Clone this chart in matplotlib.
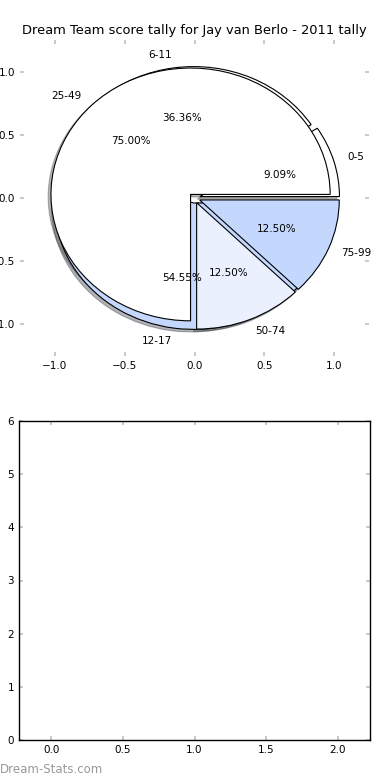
import matplotlib
matplotlib.use("Agg")
import matplotlib.pyplot as plt
import matplotlib.patches as mpatches

title = "Dream Team score tally for Jay van Berlo - 2011 tally"

pie1_labels = ['0-5', '6-11', '12-17']
pie1_values = [1, 4, 6]
pie1_colors = ['white', 'white', '#C4D8FE']

pie2_labels = ['25-49', '50-74', '75-99']
pie2_values = [6, 1, 1]
pie2_colors = ['white', '#EAF0FE', '#C4D8FE']

top_ticks = [-1.0, -0.5, 0.0, 0.5, 1.0]
bottom_xticks = [0.0, 0.5, 1.0, 1.5, 2.0]
bottom_yticks = [0, 1, 2, 3, 4, 5, 6]

FS = 7.5
DPI = 100
fig = plt.figure(figsize=(3.9, 7.8), dpi=DPI)
fig.patch.set_facecolor('white')

ax1 = fig.add_axes([20/390, (780-356)/780, 349/390, 316/780])
ax2 = fig.add_axes([19/390, 40/780, 351/390, 319/780])

wp = {'edgecolor': 'black', 'linewidth': 0.8}
tp = {'fontsize': FS}
shadow_off = -0.02 * 72 / DPI
for vals, labs, cols in [(pie1_values, pie1_labels, pie1_colors),
                         (pie2_values, pie2_labels, pie2_colors)]:
    ax1.pie(vals, labels=labs, colors=cols, explode=[0.04]*len(vals),
            autopct='%1.2f%%', shadow={'ox': shadow_off, 'oy': shadow_off},
            frame=True, wedgeprops=wp, textprops=tp)

for p in ax1.patches:
    if isinstance(p, mpatches.Shadow):
        p.set_zorder(0.9)
        p.set_alpha(0.4)

ax1.set_aspect('auto')
ax1.set_xlim(-1.25, 1.25)
ax1.set_ylim(-1.25, 1.25)
ax1.set_xticks(top_ticks)
ax1.set_yticks(top_ticks)
for s in ax1.spines.values():
    s.set_visible(False)
ax1.set_title(title, fontsize=9.35, pad=4)

ax2.set_xlim(-0.225, 2.225)
ax2.set_ylim(0, 6)
ax2.set_xticks(bottom_xticks)
ax2.set_yticks(bottom_yticks)
for s in ax2.spines.values():
    s.set_linewidth(1.0)

for ax in (ax1, ax2):
    ax.tick_params(direction='in', length=3, width=1.2, color='#c0c0c0',
                   labelsize=FS, labelcolor='black', pad=3.5,
                   top=True, right=True)

fig.text(0.0, 7/780, 'Dream-Stats.com', fontsize=8.5, color='#999999',
         ha='left', va='baseline')

fig.savefig('out.png', dpi=DPI, facecolor='white')
